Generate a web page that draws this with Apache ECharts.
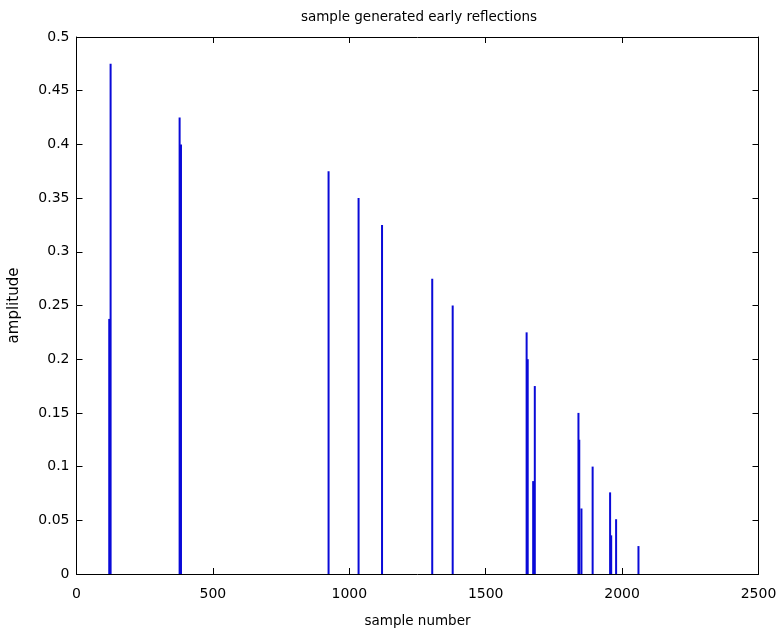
<!DOCTYPE html>
<html><head><meta charset="utf-8">
<script src="https://cdn.jsdelivr.net/npm/echarts@6/dist/echarts.min.js"></script>
<style>html,body{margin:0;padding:0;background:#fff}#c{width:777px;height:628px}</style>
</head><body><div id="c"></div>
<script>
const sampleIdx = [120, 125, 378, 383, 924, 1034, 1120, 1304, 1379, 1650, 1654, 1674, 1680, 1840, 1843, 1851, 1892, 1956, 1960, 1978, 2060];
const amplitude = [0.2375, 0.475, 0.425, 0.4, 0.375, 0.35, 0.325, 0.275, 0.25, 0.225, 0.2, 0.0865, 0.175, 0.15, 0.125, 0.061, 0.1, 0.076, 0.036, 0.051, 0.026];
const xTicks = [0, 500, 1000, 1500, 2000, 2500];
const yTicks = [0, 0.05, 0.1, 0.15, 0.2, 0.25, 0.3, 0.35, 0.4, 0.45, 0.5];

const data = sampleIdx.map((x, i) => [x, amplitude[i]]);
const font = 'DejaVu Sans';
const axisCommon = {
  axisLine: { show: true, onZero: false, lineStyle: { color: '#000', width: 1 } },
  axisTick: { show: true, inside: true, length: 6, lineStyle: { color: '#000' } },
  splitLine: { show: false }
};
const chart = echarts.init(document.getElementById('c'), null, { renderer: 'canvas' });
chart.setOption({
  animation: false,
  backgroundColor: '#fff',
  title: {
    text: 'sample generated early reflections',
    left: 414, top: 5, textAlign: 'center',
    textStyle: { fontFamily: font, fontSize: 13.5, fontWeight: 'normal', color: '#000' }
  },
  grid: { left: 76.5, right: 18.5, top: 37, bottom: 54, containLabel: false, outerBoundsMode: 'none' },
  xAxis: [
    Object.assign({
      type: 'value', min: xTicks[0], max: xTicks[xTicks.length - 1], interval: 500,
      name: 'sample number', nameLocation: 'middle', nameGap: 40,
      nameTextStyle: { fontFamily: font, fontSize: 13.5, color: '#000' },
      axisLabel: { fontFamily: font, fontSize: 14, color: '#000', margin: 13, formatter: v => String(v) }
    }, axisCommon),
    Object.assign({
      type: 'value', position: 'top', min: xTicks[0], max: xTicks[xTicks.length - 1], interval: 500,
      axisLabel: { show: false }
    }, axisCommon)
  ],
  yAxis: [
    Object.assign({
      type: 'value', min: yTicks[0], max: yTicks[yTicks.length - 1], interval: 0.05,
      name: 'amplitude', nameLocation: 'middle', nameGap: 55, nameRotate: 90,
      nameTextStyle: { fontFamily: font, fontSize: 15, color: '#000' },
      axisLabel: { fontFamily: font, fontSize: 14, color: '#000', margin: 7, formatter: v => String(v) }
    }, axisCommon),
    Object.assign({
      type: 'value', position: 'right', min: yTicks[0], max: yTicks[yTicks.length - 1], interval: 0.05,
      axisLabel: { show: false }
    }, axisCommon)
  ],
  series: [{
    type: 'custom',
    xAxisIndex: 0, yAxisIndex: 0,
    data: data,
    renderItem: function (params, api) {
      const p0 = api.coord([api.value(0), 0]);
      const p1 = api.coord([api.value(0), api.value(1)]);
      return {
        type: 'line',
        shape: { x1: p0[0], y1: p0[1], x2: p1[0], y2: p1[1] },
        style: { stroke: '#0a0ad8', lineWidth: 2 }
      };
    }
  }]
});
</script></body></html>
